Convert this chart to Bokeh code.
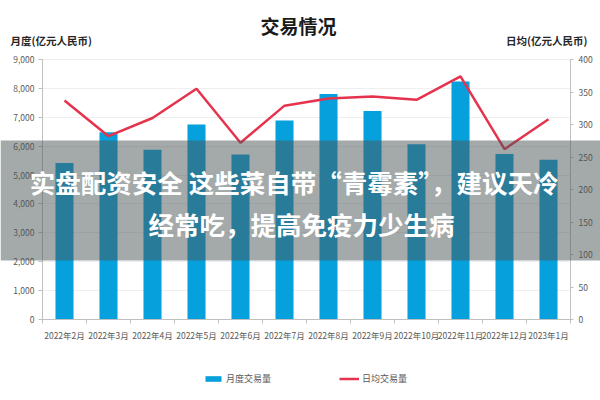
from bokeh.plotting import figure
from bokeh.models import (Range1d, LinearAxis, FixedTicker, SingleIntervalTicker,
                          NumeralTickFormatter, Label, BoxAnnotation, Legend, LegendItem)
from bokeh.embed import file_html
from bokeh.resources import INLINE

months = ["2022年2月", "2022年3月", "2022年4月", "2022年5月", "2022年6月", "2022年7月",
          "2022年8月", "2022年9月", "2022年10月", "2022年11月", "2022年12月", "2023年1月"]
monthly = [5420, 6480, 5880, 6750, 5710, 6890, 7810, 7220, 6070, 8240, 5730, 5530]
daily = [337, 282, 310, 355, 272, 329, 340, 343, 338, 374, 262, 308]

title_text = "交易情况"
left_title = "月度(亿元人民币)"
right_title = "日均(亿元人民币)"
bar_name = "月度交易量"
line_name = "日均交易量"
overlay_lines = ["实盘配资安全 这些菜自带“青霉素”，建议天冷", "经常吃，提高免疫力少生病"]

FONT = "Noto Sans CJK SC"
BAR_COLOR = "#06a0dc"
LINE_COLOR = "#e6334d"
GRAY = "#595959"
AXIS = "#bfbfbf"

W, H = 600, 400
# plotting area inside the canvas (pixels)
PL, PR, PT, PB = 42, 570, 59, 319

n = len(months)
xs = [i + 0.5 for i in range(n)]
YMAX, RMAX = 9000, 400

def span(lo, hi, p_lo, p_hi, total, flip=False):
    # range whose [lo, hi] maps to pixels [p_lo, p_hi] of a canvas of size total
    k = (hi - lo) / (p_hi - p_lo)
    if flip:
        return Range1d(lo - (total - p_hi) * k, hi + p_lo * k)
    return Range1d(lo - p_lo * k, hi + (total - p_hi) * k)

p = figure(width=W, height=H, output_backend="svg", toolbar_location=None, title=None,
           x_range=span(0, n, PL, PR, W), y_range=span(0, YMAX, PT, PB, H, flip=True),
           min_border=0, min_border_left=0, min_border_right=0,
           min_border_top=0, min_border_bottom=0)
p.extra_y_ranges = {"right": span(0, RMAX, PT, PB, H, flip=True)}
p.outline_line_color = None
p.background_fill_color = "white"
p.xgrid.grid_line_color = None
g = p.ygrid[0]
g.ticker = SingleIntervalTicker(interval=1000)
g.grid_line_color = "#efefef"
g.bounds = (0, YMAX)
try:
    g.cross_bounds = (0, n)
except Exception:
    pass

# x axis
xa = p.xaxis[0]
xa.fixed_location = 0
xa.bounds = (0, n)
xa.ticker = FixedTicker(ticks=xs, minor_ticks=list(range(n + 1)))
xa.major_label_overrides = {x: m for x, m in zip(xs, months)}
xa.major_tick_line_color = None
xa.major_tick_out = 4
xa.major_tick_in = 0
xa.minor_tick_out = 4
xa.minor_tick_in = 0
xa.minor_tick_line_color = AXIS
xa.axis_line_color = AXIS
xa.major_label_text_font = FONT
xa.major_label_text_font_size = "8.5px"
xa.major_label_text_color = GRAY
xa.major_label_standoff = 5

# left axis
ya = p.yaxis[0]
ya.fixed_location = 0
ya.bounds = (0, YMAX)
ya.ticker = SingleIntervalTicker(interval=1000)
ya.formatter = NumeralTickFormatter(format="0,0")
ya.axis_line_color = AXIS
ya.major_tick_line_color = AXIS
ya.major_tick_out = 4
ya.major_tick_in = 0
ya.minor_tick_line_color = None
ya.major_label_text_font = FONT
ya.major_label_text_font_size = "8.5px"
ya.major_label_text_color = GRAY
ya.major_label_standoff = 4

# right axis
ra = LinearAxis(y_range_name="right", ticker=SingleIntervalTicker(interval=50),
                fixed_location=n, bounds=(0, RMAX))
ra.axis_line_color = AXIS
ra.major_tick_line_color = AXIS
ra.major_tick_out = 3
ra.major_tick_in = 0
ra.minor_tick_line_color = None
ra.major_label_text_font = FONT
ra.major_label_text_font_size = "8.5px"
ra.major_label_text_color = GRAY
ra.major_label_standoff = 4
p.add_layout(ra, "right")

bars = p.vbar(x=xs, top=monthly, width=0.41, fill_color=BAR_COLOR, line_color=None)
line = p.line(x=xs, y=daily, y_range_name="right", line_color=LINE_COLOR, line_width=2.5)

def lab(text, px, py, size, align="center", bold=True, color="#1a1a1a"):
    # px, py: canvas pixels from top-left (frame fills the canvas)
    return Label(x=px, y=H - py, x_units="screen", y_units="screen", text=text,
                 text_align=align, text_baseline="middle", text_font=FONT,
                 text_font_size=size, text_font_style="bold" if bold else "normal",
                 text_color=color)

p.add_layout(lab(title_text, 298, 25, "19px"))
p.add_layout(lab(left_title, 10, 40, "10.5px", align="left", color="#262626"))
p.add_layout(lab(right_title, 587, 40, "10.5px", align="right", color="#262626"))

# legends
for item, px in ((LegendItem(label=bar_name, renderers=[bars]), 203),
                 (LegendItem(label=line_name, renderers=[line]), 339)):
    lg = Legend(items=[item], location=(px, H - 385), orientation="horizontal",
                padding=0, margin=0, glyph_width=20, glyph_height=7, label_height=12,
                label_standoff=3, label_text_font=FONT, label_text_font_size="9px",
                label_text_color=GRAY, background_fill_alpha=0, border_line_color=None)
    p.add_layout(lg, "center")

# overlay band and text
p.add_layout(BoxAnnotation(left=0, right=W, bottom=H - 260, top=H - 140,
                           left_units="screen", right_units="screen",
                           bottom_units="screen", top_units="screen",
                           fill_color="#4a5656", fill_alpha=0.5, line_color=None))
p.add_layout(lab(overlay_lines[0], 300, 181, "25.5px", color="white"))
p.add_layout(lab(overlay_lines[1], 301, 223, "25.5px", color="white"))

open("out.html", "w").write(file_html(p, INLINE))
